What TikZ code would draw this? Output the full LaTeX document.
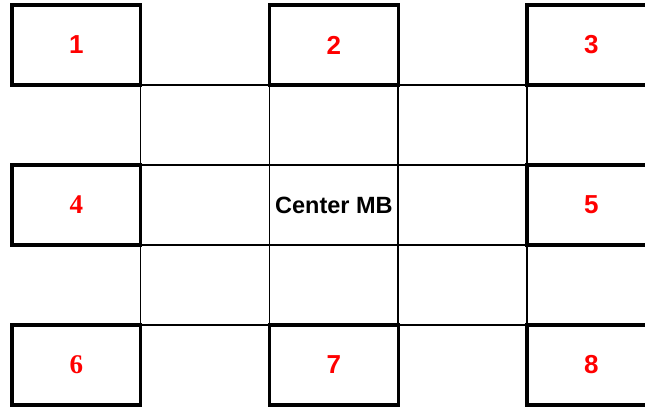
\documentclass[tikz,border=0pt]{standalone}
\usepackage{fontspec}
\setmainfont{Liberation Sans}
\newfontfamily\numserif{Liberation Serif}
\usepackage{tikz}
\usetikzlibrary{positioning}
\tikzset{
  cell/.style={rectangle,draw=black,line width=1.5pt,minimum width=128.75pt,minimum height=80pt,inner sep=0pt},
  mb/.style={rectangle,draw=black,fill=white,line width=3.4pt,minimum width=128.75pt,minimum height=80pt,inner sep=0pt,
    text=red,font=\fontsize{26}{28}\selectfont\bfseries},
  mbs/.style={mb,font=\fontsize{27}{29}\selectfont\numserif\bfseries},
  ctr/.style={font=\fontsize{23.5}{25}\selectfont\bfseries},
}
\begin{document}
\begin{tikzpicture}[x=1pt,y=-1pt]
\useasboundingbox (0,0) rectangle (645,410);
% ---- thin grid between the boards
\foreach \i/\x in {1/205.1,2/333.9,3/462.6}
  \foreach \j/\y in {1/125,2/205,3/285}
    \node[cell] (g\i\j) at (\x,\y) {};
\node[ctr] (ctr) at (g22) {Center MB};
% ---- outer boards
\node[mb]  (mb1) at (76.4,45)  {1};
\node[mb]  (mb2) at (333.9,45) {2};
\node[mb]  (mb3) at (591.4,45) {3};
\node[mbs] (mb4) at (76.4,205) {4};
\node[mb]  (mb5) at (591.4,205) {5};
\node[mbs] (mb6) at (76.4,365) {6};
\node[mb]  (mb7) at (333.9,365) {7};
\node[mb]  (mb8) at (591.4,365) {8};
\end{tikzpicture}
\end{document}
